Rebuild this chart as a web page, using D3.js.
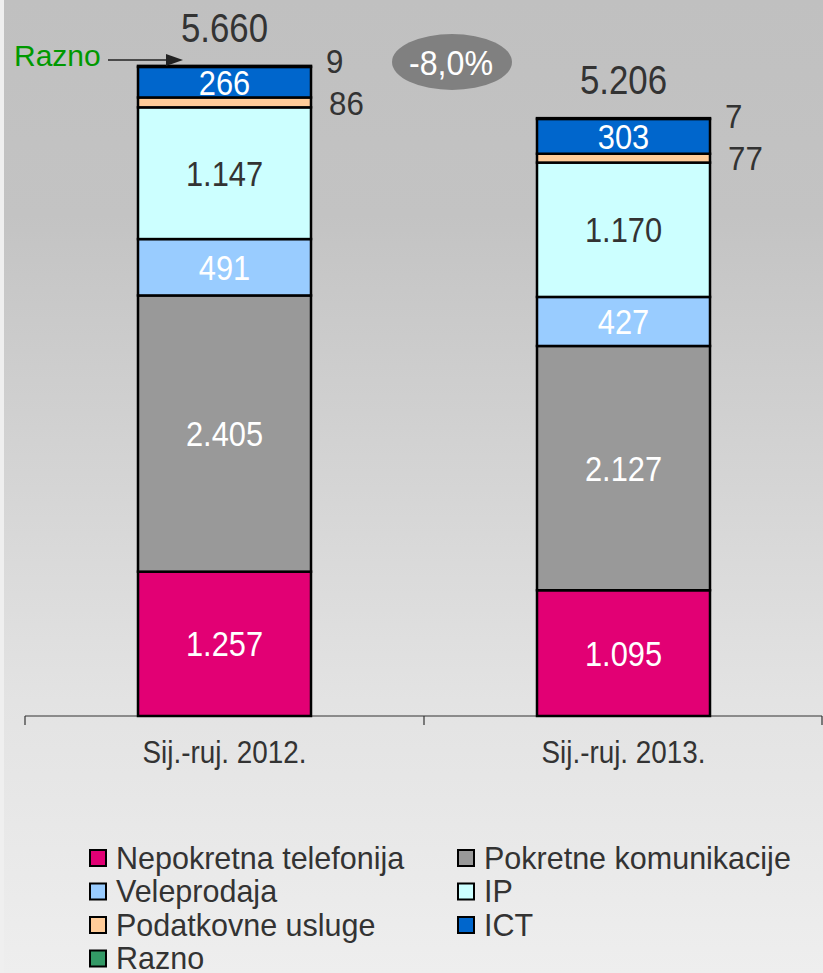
<!DOCTYPE html>
<html><head><meta charset="utf-8">
<script src="https://cdn.jsdelivr.net/npm/d3@7"></script>
<style>
html,body{margin:0;padding:0;background:#e6e6e6;}
svg{display:block;}
text{font-family:"Liberation Sans",Arial,sans-serif;}
</style></head>
<body>
<script>
const categories = ["Sij.-ruj. 2012.", "Sij.-ruj. 2013."];
const seriesNames = ["Nepokretna telefonija","Pokretne komunikacije","Veleprodaja","IP","Podatkovne usluge","ICT","Razno"];
const nepokretna = [1257, 1095];
const pokretne = [2405, 2127];
const veleprodaja = [491, 427];
const ip = [1147, 1170];
const podatkovne = [86, 77];
const ict = [266, 303];
const razno = [9, 7];
const totals = [5660, 5206];
const changeLabel = "-8,0%";
const colors = ["#e20074","#999999","#99ccff","#ccffff","#ffcc99","#0066cc","#339966"];
const labelColors = ["#ffffff","#ffffff","#ffffff","#333333","#333333","#ffffff","#333333"];
const fmt = v => d3.format(",")(v).replace(/,/g, ".");

const W = 823, H = 973;
const svg = d3.select("body").append("svg").attr("width", W).attr("height", H);
const defs = svg.append("defs");
const grad = defs.append("linearGradient").attr("id","bg").attr("x1",0).attr("y1",0).attr("x2",0).attr("y2",1);
grad.append("stop").attr("offset","0%").attr("stop-color","#c0c0c0");
grad.append("stop").attr("offset","22%").attr("stop-color","#c3c3c3");
grad.append("stop").attr("offset","72%").attr("stop-color","#e3e3e3");
grad.append("stop").attr("offset","100%").attr("stop-color","#eeeeee");
svg.append("rect").attr("width", W).attr("height", H).attr("fill","url(#bg)");
svg.append("rect").attr("width", 4).attr("height", H).attr("fill","#efefef");

const seriesValues = [nepokretna, pokretne, veleprodaja, ip, podatkovne, ict, razno];
const table = categories.map((c, i) => {
  const o = {cat: c};
  seriesNames.forEach((s, j) => o[s] = seriesValues[j][i]);
  return o;
});
const stack = d3.stack().keys(seriesNames)(table);

const x0 = 25, x1 = 823, yBase = 716, yTop = 66;
const xBand = d3.scaleBand().domain(categories).range([x0, x1]).paddingInner(0.5664).paddingOuter(0.2832);
const xAxisScale = d3.scaleBand().domain(categories).range([x0, x1]).padding(0);
const y = d3.scaleLinear().domain([0, d3.max(totals)]).range([yBase, yTop]);
const tr = (x, y, sx) => `translate(${x},${y}) scale(${sx},1)`;

// axis
const axisG = svg.append("g").attr("transform", `translate(0,${yBase})`);
axisG.append("line").attr("x1", x0).attr("x2", x1 - 1).attr("y1", 0).attr("y2", 0).attr("stroke","#333").attr("stroke-width",1.2);
const edges = categories.map(c => xAxisScale(c)).concat([xAxisScale(categories[categories.length-1]) + xAxisScale.bandwidth() - 1]);
axisG.selectAll("line.tick").data(edges).join("line").attr("class","tick")
  .attr("x1", d => d).attr("x2", d => d).attr("y1", 0).attr("y2", 9).attr("stroke","#333").attr("stroke-width",1.2);
const ax = d3.axisBottom(xAxisScale).tickSize(0).tickPadding(0);
const labG = svg.append("g").attr("transform", `translate(0,${yBase})`).call(ax);
labG.select(".domain").remove();
labG.selectAll("text").attr("font-size", 32).attr("fill","#333").attr("dy", null).attr("y", 0)
  .attr("transform", tr(0, 47, 0.87))
  .style("font-family", '"Liberation Sans",Arial,sans-serif');

// bars
const layers = svg.append("g").selectAll("g").data(stack).join("g").attr("fill", (d, i) => colors[i]);
layers.selectAll("rect").data(d => d).join("rect")
  .attr("x", d => xBand(d.data.cat))
  .attr("width", xBand.bandwidth())
  .attr("y", d => y(d[1]))
  .attr("height", d => y(d[0]) - y(d[1]))
  .attr("stroke","#000").attr("stroke-width",2.5);

// inside labels (big segments)
stack.forEach((layer, i) => {
  if (i === 4 || i === 6) return;
  svg.append("g").selectAll("text").data(layer).join("text")
    .attr("transform", d => tr(xBand(d.data.cat) + xBand.bandwidth() / 2, (y(d[0]) + y(d[1])) / 2, 0.88))
    .attr("dy", "0.36em")
    .attr("text-anchor","middle").attr("font-size", 35).attr("fill", labelColors[i])
    .text(d => fmt(d[1] - d[0]));
});
// side labels (podatkovne + razno)
const podLayer = stack[4];
svg.append("g").selectAll("text").data(podLayer).join("text")
  .attr("transform", d => tr(xBand(d.data.cat) + xBand.bandwidth() + 18, (y(d[0]) + y(d[1])) / 2, 0.92))
  .attr("dy","0.36em").attr("font-size", 34).attr("fill","#333")
  .text(d => fmt(d[1] - d[0]));
svg.append("g").selectAll("text").data(stack[6]).join("text")
  .attr("transform", (d, i) => tr(xBand(d.data.cat) + xBand.bandwidth() + 15, (y(podLayer[i][0]) + y(podLayer[i][1])) / 2 - 42, 0.92))
  .attr("dy","0.36em").attr("font-size", 34).attr("fill","#333")
  .text(d => fmt(d[1] - d[0]));

// totals
svg.append("g").selectAll("text").data(categories).join("text")
  .attr("transform", (c, i) => tr(xBand(c) + xBand.bandwidth() / 2, y(totals[i]) - 24, 0.87))
  .attr("text-anchor","middle").attr("font-size", 40).attr("fill","#333")
  .text((c, i) => fmt(totals[i]));

// change ellipse
const ex = (xAxisScale(categories[1]) + 28), ey = 62;
svg.append("ellipse").attr("cx", ex).attr("cy", ey).attr("rx", 60).attr("ry", 28).attr("fill","#808080");
svg.append("text").attr("transform", tr(ex - 1, ey, 0.92)).attr("dy","0.36em").attr("text-anchor","middle")
  .attr("font-size", 35).attr("fill","#fff").text(changeLabel);

// Razno annotation
svg.append("text").attr("transform", tr(14, 66, 1.0)).attr("font-size", 30).attr("fill","#009900").text("Razno");
svg.append("line").attr("x1", 108).attr("x2", 168).attr("y1", 60).attr("y2", 60).attr("stroke","#222").attr("stroke-width",1.5);
svg.append("path").attr("d", "M166,54 L183,60 L166,66 Z").attr("fill","#222");

// legend
const legend = svg.append("g");
const lx = [90, 458], ly0 = 858, lstep = 33.5;
seriesNames.forEach((s, i) => {
  const col = i % 2, row = Math.floor(i / 2);
  const g = legend.append("g").attr("transform", `translate(${lx[col]},${ly0 + row * lstep})`);
  g.append("rect").attr("x", 0).attr("y", -8).attr("width", 16).attr("height", 16)
    .attr("fill", colors[i]).attr("stroke","#000").attr("stroke-width",2);
  g.append("text").attr("transform", tr(26, 0, 1.0)).attr("dy","0.35em").attr("font-size", 30.5).attr("fill","#333").text(s);
});
</script>
</body></html>
